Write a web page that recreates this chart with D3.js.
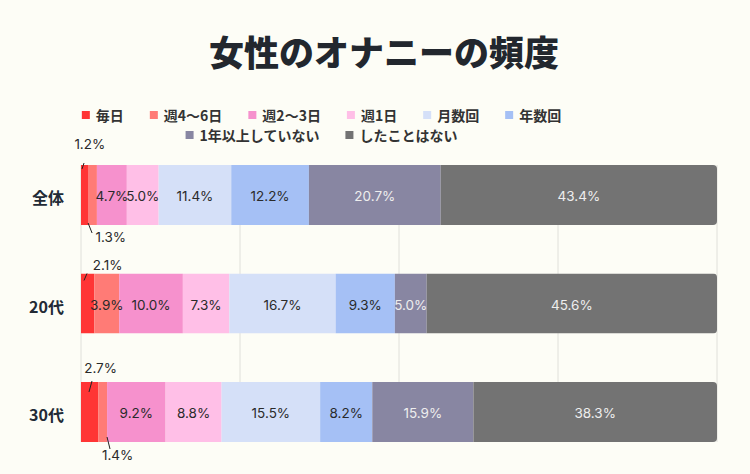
<!DOCTYPE html>
<html><head><meta charset="utf-8">
<script src="https://cdn.jsdelivr.net/npm/d3@7"></script>
<style>
html,body{margin:0;padding:0;background:#fdfdf6;}
svg{display:block;font-family:"Noto Sans CJK JP","Noto Sans",sans-serif;}
</style></head><body>
<svg id="chart" width="750" height="474"></svg>
<script>
const title = "女性のオナニーの頻度";
const categories = ["全体", "20代", "30代"];
const seriesNames = ["毎日", "週4〜6日", "週2〜3日", "週1日", "月数回", "年数回", "1年以上していない", "したことはない"];
const seriesColors = ["#ff3535", "#ff7b76", "#f691cd", "#ffbfe7", "#d5e0f8", "#a5c0f5", "#8886a2", "#737373"];
const valuesAll = [1.2, 1.3, 4.7, 5.0, 11.4, 12.2, 20.7, 43.4];
const values20 = [2.1, 3.9, 10.0, 7.3, 16.7, 9.3, 5.0, 45.6];
const values30 = [2.7, 1.4, 9.2, 8.8, 15.5, 8.2, 15.9, 38.3];
const gridTicks = [0, 25, 50, 75, 100];
const rows = [valuesAll, values20, values30];

// labels placed outside the bar with a leader line: [row, series, side, line dx1, dy1, dx2, dy2, text dx, dy]
const outside = [
  [0, 0, "top", -2.8, 4, -0.8, -2, 5, -21],
  [0, 1, "bottom", -4.7, -2, -0.7, 8, 18, 12],
  [1, 0, "top", -3.7, 7, -0.7, 0, 20, -8],
  [2, 0, "top", -0.6, 10, 2.4, -1, 11, -14],
  [2, 1, "bottom", 4.4, -5, 7.4, 7, 15, 13]
];

const svg = d3.select("#chart");
const x = d3.scaleLinear().domain([0, 100]).range([81, 717]);
const y = d3.scaleBand().domain(categories).range([143.3, 463.7]).paddingInner(0.447).paddingOuter(0.2);

svg.append("text").attr("x", 384).attr("y", 50).attr("text-anchor", "middle")
  .attr("dominant-baseline", "central").attr("font-size", 35).attr("font-weight", 900)
  .attr("fill", "#22272e").text(title);

// legend
const legendRows = [seriesNames.slice(0, 6), seriesNames.slice(6)];
const lg = svg.append("g");
legendRows.forEach((names, ri) => {
  const g = lg.append("g");
  let cx = 0;
  names.forEach(n => {
    const i = seriesNames.indexOf(n);
    g.append("rect").attr("x", cx).attr("y", -4).attr("width", 8).attr("height", 8).attr("fill", seriesColors[i]);
    const t = g.append("text").attr("x", cx + 14).attr("y", 0).attr("dominant-baseline", "central")
      .attr("font-size", 14).attr("font-weight", 700).attr("fill", "#333").text(n);
    cx += 14 + t.node().getComputedTextLength() + 26;
  });
  const w = cx - 26;
  g.attr("transform", `translate(${321.5 - w / 2},${115 + ri * 20})`);
});

// grid
const gridTop = y(categories[0]), gridBottom = y(categories[2]) + y.bandwidth();
svg.append("g").selectAll("line").data(gridTicks).join("line")
  .attr("x1", d => x(d)).attr("x2", d => x(d)).attr("y1", gridTop).attr("y2", gridBottom)
  .attr("stroke", "#e0e0da").attr("stroke-width", 1);

// bars
const defs = svg.append("defs");
rows.forEach((vals, ri) => {
  const cat = categories[ri];
  const total = d3.sum(vals);
  const xs = d3.scaleLinear().domain([0, total]).range([x(0), x(100)]);
  let cum = 0;
  const segs = vals.map((v, i) => { const s = {v, i, x0: cum, x1: cum + v}; cum += v; return s; });
  defs.append("clipPath").attr("id", "clip" + ri).append("rect")
    .attr("x", xs(0) - 10).attr("y", y(cat)).attr("width", xs(total) - xs(0) + 10)
    .attr("height", y.bandwidth()).attr("rx", 4);
  const g = svg.append("g").attr("clip-path", `url(#clip${ri})`);
  g.selectAll("rect").data(segs).join("rect")
    .attr("x", d => xs(d.x0)).attr("y", y(cat)).attr("width", d => xs(d.x1) - xs(d.x0))
    .attr("height", y.bandwidth()).attr("fill", d => seriesColors[d.i]);
  const lbl = svg.append("g");
  segs.forEach(d => {
    const cx = (xs(d.x0) + xs(d.x1)) / 2;
    const o = outside.find(a => a[0] === ri && a[1] === d.i);
    const txt = d.v.toFixed(1) + "%";
    if (o) {
      const edge = o[2] === "top" ? y(cat) : y(cat) + y.bandwidth();
      lbl.append("line").attr("x1", cx + o[3]).attr("y1", edge + o[4]).attr("x2", cx + o[5]).attr("y2", edge + o[6])
        .attr("stroke", "#222").attr("stroke-width", 1);
      lbl.append("text").attr("x", cx + o[7]).attr("y", edge + o[8]).attr("text-anchor", "middle")
        .attr("dominant-baseline", "central").attr("font-size", 13.5).attr("font-family", "Inter, 'Noto Sans', sans-serif")
        .attr("fill", "#2a2a2a").text(txt);
    } else {
      lbl.append("text").attr("x", cx).attr("y", y(cat) + y.bandwidth() / 2 + 1).attr("text-anchor", "middle")
        .attr("dominant-baseline", "central").attr("font-size", 13.5).attr("font-family", "Inter, 'Noto Sans', sans-serif")
        .attr("fill", d.i >= 6 ? "#eeeeee" : "#2a2a2a").text(txt);
    }
  });
  svg.append("text").attr("x", 64).attr("y", y(cat) + y.bandwidth() / 2 + 2).attr("text-anchor", "end")
    .attr("dominant-baseline", "central").attr("font-size", 16).attr("font-weight", 700)
    .attr("fill", "#222a35").text(cat);
});
</script>
</body></html>
